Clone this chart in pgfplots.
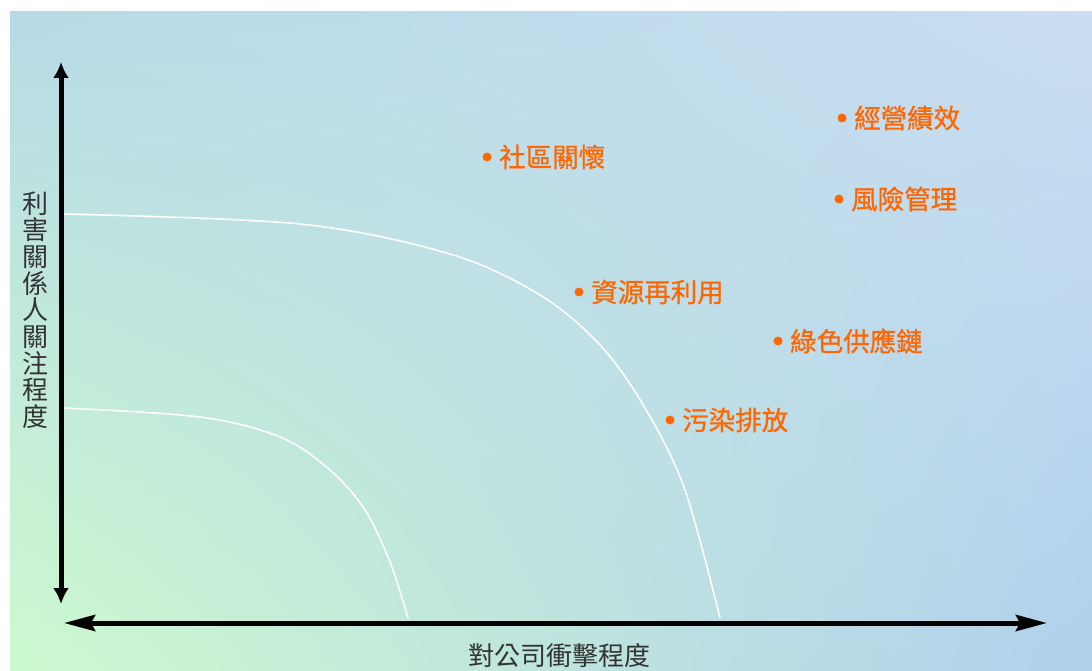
\documentclass[border=0pt]{standalone}
\usepackage{fontspec}
\usepackage{pgfplots}
\pgfplotsset{compat=1.18}
\usetikzlibrary{arrows.meta, shadings}
\setmainfont{Noto Sans CJK TC}
\newfontfamily\lblfont[FakeBold=0.8]{Noto Sans CJK TC}
\definecolor{lblorange}{HTML}{FF6600}
\definecolor{bgTL}{HTML}{B6DAE6}
\definecolor{bgTR}{HTML}{CADEF2}
\definecolor{bgBL}{HTML}{CCFACE}
\definecolor{bgBR}{HTML}{B0D0EC}

% issue positions, in pixel units of the original picture (y grows downwards)
\pgfplotstableread[col sep=comma]{
x,y,label
487,157,社區關懷
842,118,經營績效
839,199,風險管理
579,292,資源再利用
778,341,綠色供應鏈
670,420,污染排放
}\issues

\begin{document}
\begin{tikzpicture}
\begin{axis}[
    scale only axis, width=1092pt, height=671pt,
    xmin=0, xmax=1092, ymin=0, ymax=671,
    y dir=reverse, hide axis, clip=false,
]
    % page and background
    \fill[white] (axis cs:0,0) rectangle (axis cs:1092,671);
    \shade[upper left=bgTL, upper right=bgTR, lower left=bgBL, lower right=bgBR]
        (axis cs:10,12) rectangle (axis cs:1092,671);

    % boundary curves
    \addplot[white, line width=1.6pt, smooth, tension=0.55] coordinates {
        (63,214) (300,224) (450,254) (540,295) (600,345) (645,408) (685,490)
        (720,618)
    };
    \addplot[white, line width=1.6pt, smooth, tension=0.55] coordinates {
        (63,408) (200,417) (280,437) (330,470) (365,510) (390,562) (408,618)
    };

    % axes arrows
    \addplot[black, line width=5pt,
        {Latex[length=16pt,width=16pt]}-{Latex[length=16pt,width=16pt]}]
        coordinates {(61,604) (61,62)};
    \addplot[black, line width=5pt,
        {Stealth[length=31pt,width=16pt,inset=4pt]}-{Stealth[length=31pt,width=16pt,inset=4pt]}]
        coordinates {(64,623) (1047,623)};

    % issues
    \addplot[only marks, mark=*, mark size=4.2pt, lblorange,
        nodes near coords, point meta=explicit symbolic,
        nodes near coords style={anchor=west, inner sep=0pt, xshift=12pt,
            font=\lblfont\fontsize{26.5}{28}\selectfont, text=lblorange}]
        table[x=x, y=y, meta=label] {\issues};

    % axis titles
    \node[text=black!80, font=\fontsize{26}{28}\selectfont, anchor=base]
        at (axis cs:559,665) {對公司衝擊程度};
    \node[text=black!80, font=\fontsize{26}{26.7}\selectfont, align=center,
        inner sep=0pt] at (axis cs:36,310)
        {利\\害\\關\\係\\人\\關\\注\\程\\度};
\end{axis}
\end{tikzpicture}
\end{document}
